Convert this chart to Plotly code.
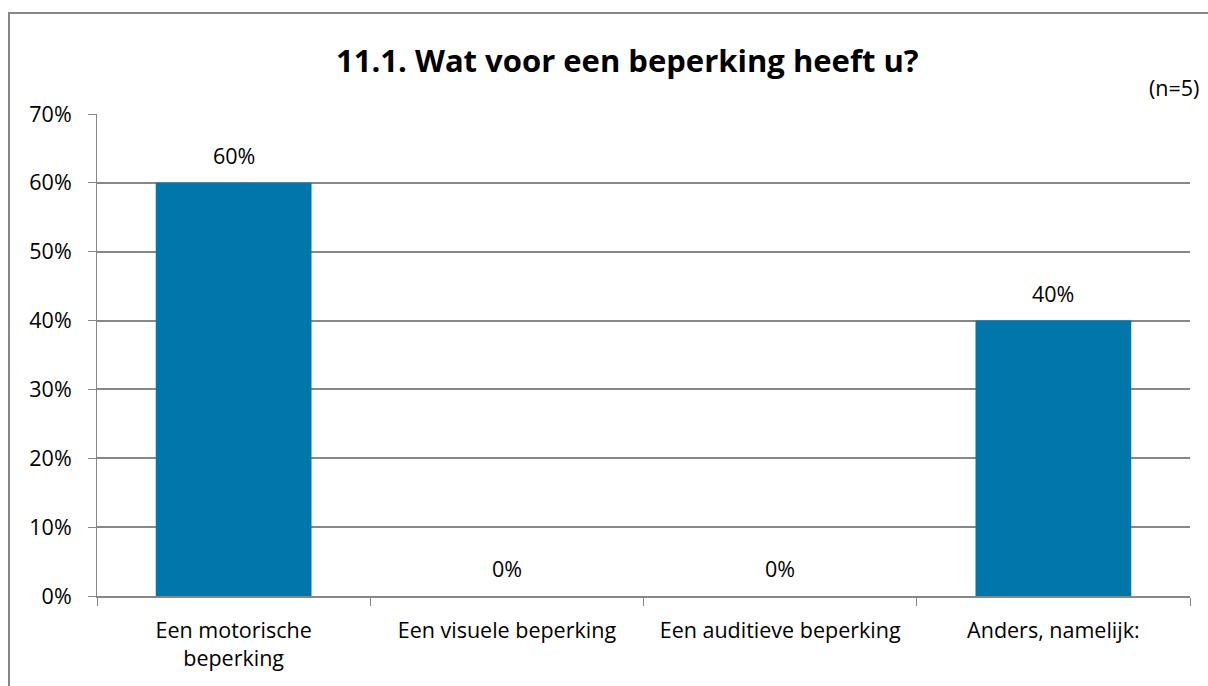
import plotly.graph_objects as go

categories = ["Een motorische<br>beperking", "Een visuele beperking", "Een auditieve beperking", "Anders, namelijk:"]
values = [0.60, 0.0, 0.0, 0.40]
labels = ["60%", "0%", "0%", "40%"]
title = "11.1. Wat voor een beperking heeft u?"
n_text = "(n=5)"

W, H = 1208, 686
L, R, T, B = 97, 18, 114, 90
pw = W - L - R
ph = H - T - B

def px(x):
    return (x - L) / pw

def py(y):
    return (H - B - y) / ph

font = "Open Sans, Liberation Sans, sans-serif"
fs = 21.5

fig = go.Figure()
fig.add_trace(go.Bar(
    x=categories, y=values,
    marker=dict(color="#0076AA", line=dict(width=0)),
    width=0.57, cliponaxis=False,
))
for c, v, t in zip(categories, values, labels):
    fig.add_annotation(
        x=c, y=v, text=t, showarrow=False, xanchor="center", yanchor="bottom",
        yshift=11, font=dict(size=fs, family=font, color="#000000"),
    )

fig.update_layout(
    width=W, height=H,
    margin=dict(l=L, r=R, t=T, b=B),
    paper_bgcolor="white", plot_bgcolor="white",
    showlegend=False,
    font=dict(family=font, size=fs, color="#000000"),
)
fig.update_xaxes(
    type="category", tickson="boundaries", ticks="outside", ticklen=8,
    tickcolor="#878787", showline=True, linecolor="#878787", linewidth=2,
    showgrid=False, tickfont=dict(size=fs, family=font), ticklabelstandoff=14,
)
fig.update_yaxes(
    range=[0, 0.7], dtick=0.1, tickformat=".0%", ticks="outside", ticklen=8,
    tickcolor="#878787", showline=True, linecolor="#878787", linewidth=1,
    showgrid=True, gridcolor="#878787", gridwidth=1.5, zeroline=False,
    tickfont=dict(size=fs, family=font), ticklabelstandoff=12,
)
fig.add_annotation(
    text="<b>" + title + "</b>", xref="paper", yref="paper",
    x=px(627), y=py(60), xanchor="center", yanchor="middle",
    showarrow=False, font=dict(size=31, family=font, color="#000000"),
)
fig.add_annotation(
    text=n_text, xref="paper", yref="paper",
    x=px(1201), y=py(88), xanchor="right", yanchor="middle",
    showarrow=False, font=dict(size=fs, family=font, color="#000000"),
)
fig.add_shape(
    type="rect", xref="paper", yref="paper",
    x0=px(9), x1=px(1214), y0=py(700), y1=py(13),
    line=dict(color="#878787", width=2), fillcolor="rgba(0,0,0,0)", layer="below",
)

fig.write_html("out.html", config={"displayModeBar": False},
               post_script="document.body.style.margin='0';document.body.style.overflow='hidden';")
